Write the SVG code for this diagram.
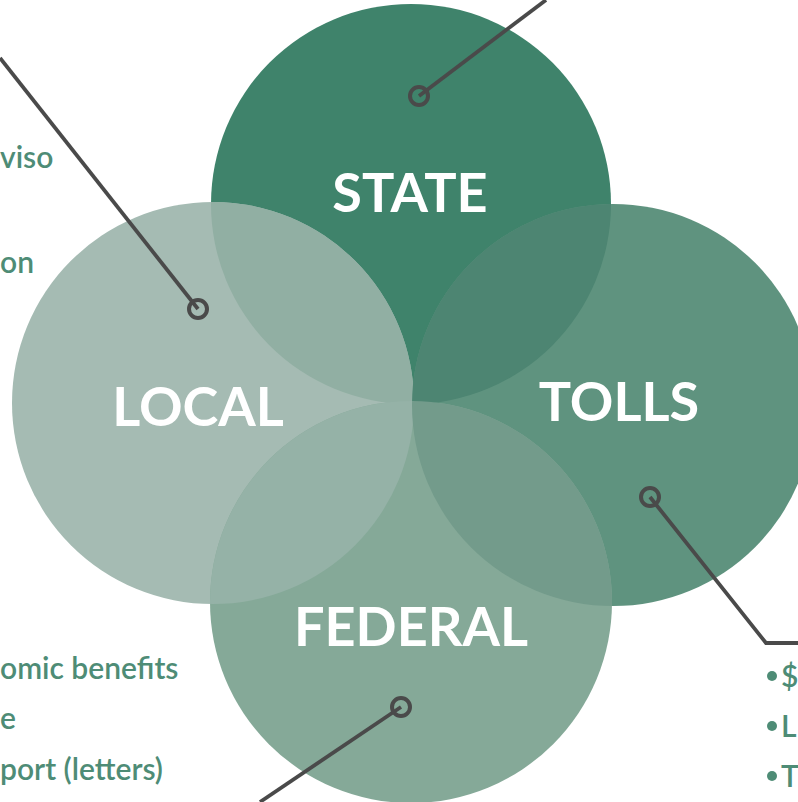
<svg xmlns="http://www.w3.org/2000/svg" width="798" height="802" viewBox="0 0 798 802">
<style>
.lbl{font-family:Lato,"Liberation Sans",sans-serif;font-weight:700;font-size:54px;fill:#ffffff;text-anchor:middle}
.side{font-family:Lato,"Liberation Sans",sans-serif;font-weight:600;font-size:30px;fill:#4e8c76}
.conn{stroke:#4a4a4a;stroke-width:3.8;fill:none;stroke-linejoin:miter}
.dot{stroke:#4a4a4a;stroke-width:4;fill:none}
</style>
<defs>
<clipPath id="cState"><circle cx="411" cy="204" r="200"/></clipPath>
<clipPath id="cLocal"><circle cx="213" cy="403" r="201"/></clipPath>
<clipPath id="cTolls"><circle cx="613" cy="405" r="201"/></clipPath>
</defs>
<rect width="798" height="802" fill="#ffffff"/>
<g id="state"><circle cx="411" cy="204" r="200" fill="#3f836b"/></g>
<g id="local"><circle cx="213" cy="403" r="201" fill="#a5bbb3"/></g>
<g id="tolls"><circle cx="613" cy="405" r="201" fill="#5f937f"/></g>
<g id="federal"><circle cx="411" cy="602" r="201" fill="#85a998"/></g>
<g id="overlaps">
<g clip-path="url(#cState)"><circle cx="213" cy="403" r="201" fill="#91afa3"/><circle cx="613" cy="405" r="201" fill="#4d8572"/></g>
<g clip-path="url(#cLocal)"><circle cx="411" cy="602" r="201" fill="#95b2a7"/></g>
<g clip-path="url(#cTolls)"><circle cx="411" cy="602" r="201" fill="#739b8b"/></g>
</g>
<g id="labels">
<text class="lbl" x="410" y="212">STATE</text>
<text class="lbl" x="198" y="426">LOCAL</text>
<text class="lbl" x="619" y="421">TOLLS</text>
<text class="lbl" x="411" y="646">FEDERAL</text>
</g>
<g id="connectors">
<polyline class="conn" points="546,0 419,96"/>
<polyline class="conn" points="0,58 198,309"/>
<polyline class="conn" points="260,802 401,707"/>
<polyline class="conn" points="650,497 766,643 798,643"/>
<circle class="dot" cx="419" cy="96" r="9"/>
<circle class="dot" cx="198" cy="309" r="9"/>
<circle class="dot" cx="401" cy="707" r="9"/>
<circle class="dot" cx="650" cy="497" r="9"/>
</g>
<g id="left-notes">
<text class="side" x="0" y="168">viso</text>
<text class="side" x="0" y="273">on</text>
<text class="side" x="0" y="679">omic benefits</text>
<text class="side" x="0" y="729">e</text>
<text class="side" x="0" y="780">port (letters)</text>
</g>
<g id="right-notes">
<circle cx="772" cy="676" r="5" fill="#4e8c76"/>
<text class="side" x="781" y="687">$</text>
<circle cx="772" cy="726" r="5" fill="#4e8c76"/>
<text class="side" x="781" y="737">L</text>
<circle cx="772" cy="776" r="5" fill="#4e8c76"/>
<text class="side" x="781" y="787">T</text>
</g>
</svg>
